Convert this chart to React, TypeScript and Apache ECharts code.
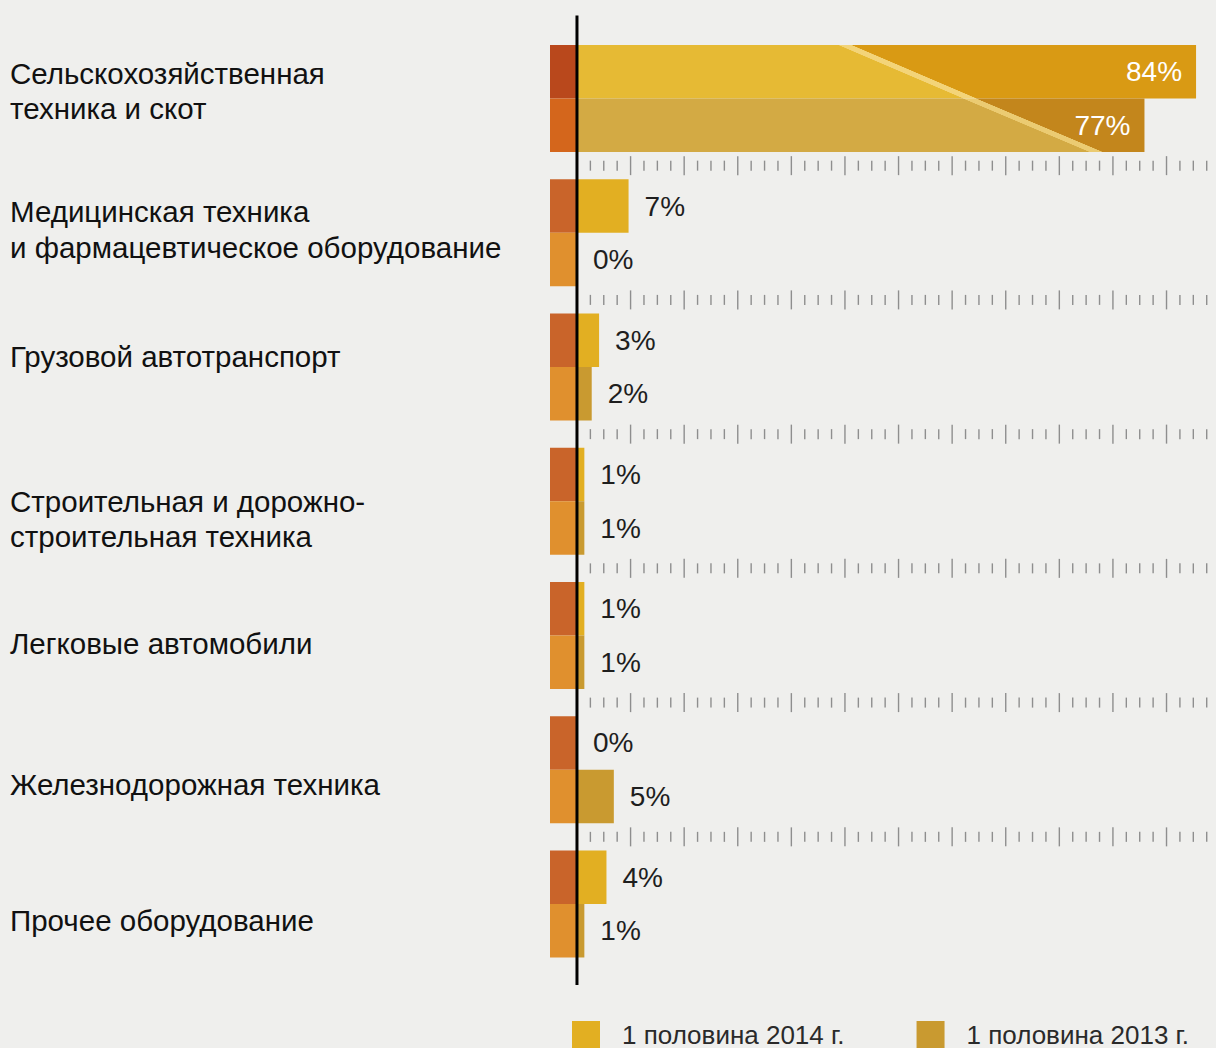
import React, { useEffect, useRef } from "react";
import * as echarts from "echarts";

const categories = [
  "Сельскохозяйственная\nтехника и скот",
  "Медицинская техника\nи фармацевтическое оборудование",
  "Грузовой автотранспорт",
  "Строительная и дорожно-\nстроительная техника",
  "Легковые автомобили",
  "Железнодорожная техника",
  "Прочее оборудование",
];
const seriesNames = ["1 половина 2014 г.", "1 половина 2013 г."];
const values2014 = [84, 7, 3, 1, 1, 0, 4];
const values2013 = [77, 0, 2, 1, 1, 5, 1];
const stubValues = [-3.66, -3.66, -3.66, -3.66, -3.66, -3.66, -3.66];
const rulerRows = [0, 1, 2, 3, 4, 5];
// vertical nudge (px) of each category label relative to its band centre
const labelNudges = [-7.5, -3.5, -11, 17.5, 8, 15, 17];

const FONT = "'Liberation Sans', Arial, Helvetica, sans-serif";

function diagGradient(x1: number, y1: number, x2: number, y2: number, light: string, streak: string, dark: string, half: number) {
  return new echarts.graphic.LinearGradient(x1, y1, x2, y2, [
    { offset: 0, color: light },
    { offset: 0.5 - half, color: light },
    { offset: 0.5 - half + 0.005, color: streak },
    { offset: 0.5 + half - 0.005, color: streak },
    { offset: 0.5 + half, color: dark },
    { offset: 1, color: dark },
  ]);
}

export default function App() {
  const ref = useRef<HTMLDivElement>(null);
  useEffect(() => {
    if (!ref.current) return;
    const chart = echarts.init(ref.current, undefined, { renderer: "svg" });
    const labelBase = {
      show: true,
      position: "right",
      distance: 16,
      formatter: "{c}%",
      fontSize: 28,
      color: "#1e1e1e",
      fontFamily: FONT,
    };
    const data2014 = values2014.map((v, i) =>
      i === 0
        ? {
            value: v,
            itemStyle: { color: diagGradient(0.334, 0.5404, 0.734, 0.4596, "#E6BA34", "#F3D479", "#D99A14", 0.028) },
            label: { position: "insideRight", distance: 14, color: "#ffffff" },
          }
        : v
    );
    const data2013 = values2013.map((v, i) =>
      i === 0
        ? {
            value: v,
            itemStyle: { color: diagGradient(0.6035, 0.5446, 1.0035, 0.4554, "#D3AA44", "#EBCB72", "#C3861C", 0.03) },
            label: { position: "insideRight", distance: 14, color: "#ffffff" },
          }
        : v
    );
    const stub14 = stubValues.map((v, i) => (i === 0 ? { value: v, itemStyle: { color: "#B9481C" } } : v));
    const stub13 = stubValues.map((v, i) => (i === 0 ? { value: v, itemStyle: { color: "#D4661C" } } : v));

    const rich: any = {
      t: { fontSize: 29.5, lineHeight: 35.5, color: "#111111", fontFamily: FONT, align: "left" },
    };
    labelNudges.forEach((d, i) => {
      const h = Math.max(1, Math.abs(2 * d));
      rich["s" + i] = { fontSize: 1, height: h, lineHeight: h, color: "rgba(0,0,0,0)" };
    });

    chart.setOption({
      animation: false,
      backgroundColor: "#EFEFED",
      grid: { left: 547.5, right: 5.2, top: 31.4, bottom: 76.9, outerBoundsMode: "none" },
      xAxis: { type: "value", min: -4, max: 86, show: false },
      yAxis: {
        type: "category",
        data: categories,
        inverse: true,
        axisLine: { show: false, onZero: false },
        axisTick: { show: false },
        splitLine: { show: false },
        axisLabel: {
          align: "left",
          margin: 537.5,
          fontSize: 29.5,
          lineHeight: 35.5,
          color: "#111111",
          fontFamily: FONT,
          rich,
          formatter: (value: string, index: number) => {
            const d = labelNudges[index] || 0;
            const body = value
              .split("\n")
              .map((line) => "{t|" + line + "}")
              .join("\n");
            const spacer = "{s" + index + "| }";
            return d >= 0 ? spacer + "\n" + body : body + "\n" + spacer;
          },
        },
      },
      legend: {
        data: seriesNames,
        left: 572,
        top: 1021,
        padding: 0,
        icon: "rect",
        itemWidth: 28,
        itemHeight: 27,
        itemGap: 72,
        selectedMode: false,
        textStyle: { fontSize: 26, color: "#2a2a2a", fontFamily: FONT, padding: [0, 0, 0, 17] },
      },
      series: [
        {
          name: seriesNames[0],
          type: "bar",
          stack: "s14",
          data: data2014,
          barWidth: 53.5,
          barGap: "0%",
          itemStyle: { color: "#E2AF22" },
          label: labelBase,
        },
        {
          name: "stub2014",
          type: "bar",
          stack: "s14",
          data: stub14,
          barWidth: 53.5,
          barGap: "0%",
          itemStyle: { color: "#C9642A" },
          silent: true,
        },
        {
          name: seriesNames[1],
          type: "bar",
          stack: "s13",
          data: data2013,
          barWidth: 53.5,
          barGap: "0%",
          itemStyle: { color: "#C99A30" },
          label: labelBase,
        },
        {
          name: "stub2013",
          type: "bar",
          stack: "s13",
          data: stub13,
          barWidth: 53.5,
          barGap: "0%",
          itemStyle: { color: "#E0902E" },
          silent: true,
        },
        {
          name: "ruler",
          type: "custom",
          coordinateSystem: "cartesian2d",
          silent: true,
          z: 1,
          data: rulerRows.map((r) => [0, r]),
          encode: { x: 0, y: 1 },
          renderItem: (params: any, api: any) => {
            const i = api.value(1);
            const y = (api.coord([0, i])[1] + api.coord([0, i + 1])[1]) / 2;
            const step = 1.818;
            const children: any[] = [];
            for (let k = 1; k < 400; k++) {
              const x = api.coord([k * step, i])[0];
              if (x > 1216) break;
              const major = k % 4 === 0;
              const h = major ? 9.5 : 5;
              children.push({
                type: "line",
                shape: { x1: x, y1: y - h, x2: x, y2: y + h },
                style: { stroke: "#8e8e8e", lineWidth: 1.4 },
              });
            }
            return { type: "group", children };
          },
        },
        {
          name: "zeroLine",
          type: "custom",
          coordinateSystem: "cartesian2d",
          silent: true,
          z: 10,
          data: [[0, 0]],
          encode: { x: 0, y: 1 },
          renderItem: (params: any, api: any) => {
            const cs = params.coordSys;
            const x = api.coord([0, 0])[0];
            return {
              type: "line",
              shape: { x1: x, y1: cs.y - 16, x2: x, y2: cs.y + cs.height + 14 },
              style: { stroke: "#000000", lineWidth: 3 },
            };
          },
        },
      ],
    });
    return () => chart.dispose();
  }, []);
  return (
    <div
      ref={ref}
      style={{ position: "absolute", left: 0, top: 0, width: 1216, height: 1048 }}
    />
  );
}
